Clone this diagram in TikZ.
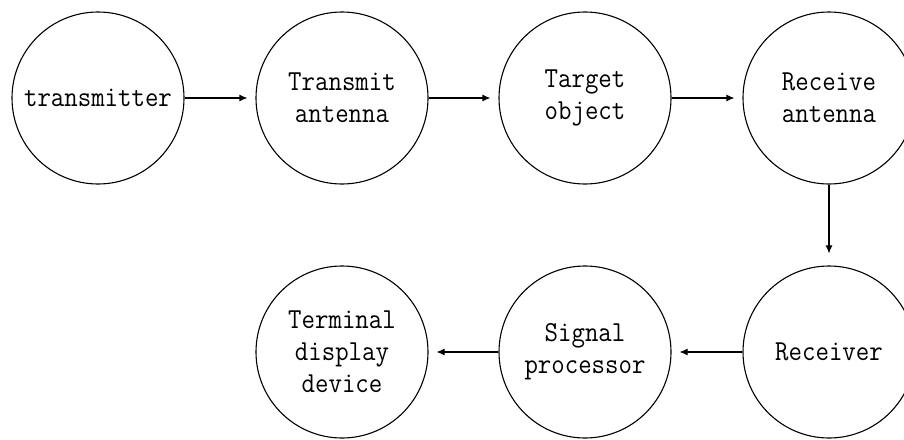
\documentclass[tikz,border=0pt]{standalone}
\usepackage{fontspec}
\newfontfamily\diagfont[FakeStretch=0.9]{Latin Modern Mono}
\usetikzlibrary{arrows.meta}
\tikzset{
  stage/.style={circle, draw=black, line width=1.1pt, minimum size=172pt, inner sep=0pt,
    align=center, font=\diagfont\fontsize{29}{32}\selectfont},
  flow/.style={line width=1.1pt, -{Latex[length=8pt,width=7pt]}, shorten >=8pt}
}
\begin{document}
\begin{tikzpicture}[x=1pt,y=-1pt]
\useasboundingbox[fill=white] (0,0) rectangle (904,439);
\node[stage] (tx) at (98,98) {transmitter};
\node[stage] (ta) at (342,98) {Transmit\\antenna};
\node[stage] (to) at (585,98) {Target\\object};
\node[stage] (ra) at (829,98) {Receive\\antenna};
\node[stage] (rx) at (829,352) {Receiver};
\node[stage] (sp) at (585,352) {Signal\\processor};
\node[stage] (td) at (342,352) {Terminal\\display\\device};
\draw[flow] (tx) -- (ta);
\draw[flow] (ta) -- (to);
\draw[flow] (to) -- (ra);
\draw[flow, shorten >=12pt] (ra) -- (rx);
\draw[flow] (rx) -- (sp);
\draw[flow] (sp) -- (td);
\end{tikzpicture}
\end{document}
